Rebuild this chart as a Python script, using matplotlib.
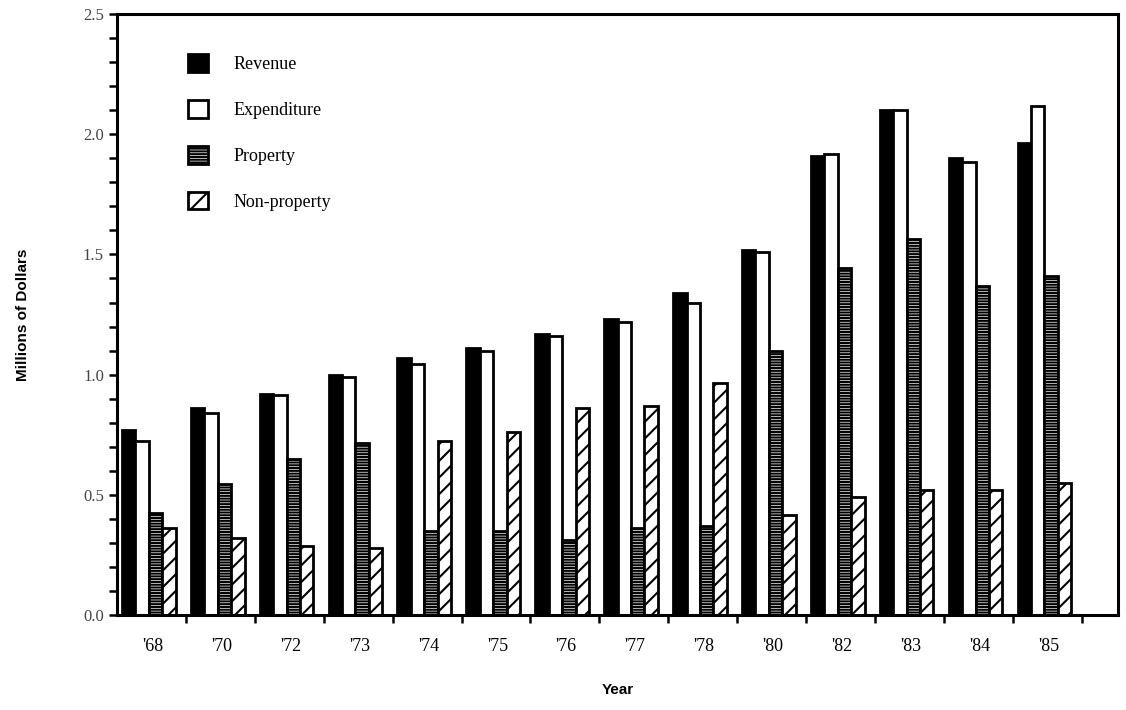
import numpy as np
import matplotlib
matplotlib.use("Agg")
import matplotlib.pyplot as plt
from matplotlib.ticker import MultipleLocator

# values (millions of dollars)
years = ["'68", "'70", "'72", "'73", "'74", "'75", "'76", "'77", "'78", "'80", "'82", "'83", "'84", "'85"]
revenue = [0.77, 0.86, 0.92, 1.00, 1.07, 1.11, 1.17, 1.23, 1.34, 1.52, 1.91, 2.10, 1.90, 1.965]
expenditure = [0.725, 0.84, 0.915, 0.99, 1.045, 1.10, 1.16, 1.22, 1.30, 1.51, 1.92, 2.10, 1.885, 2.12]
property_tax = [0.425, 0.545, 0.65, 0.715, 0.35, 0.35, 0.31, 0.36, 0.37, 1.10, 1.445, 1.565, 1.37, 1.41]
non_property = [0.36, 0.32, 0.285, 0.28, 0.725, 0.76, 0.86, 0.87, 0.965, 0.415, 0.49, 0.52, 0.52, 0.55]

plt.rcParams['hatch.linewidth'] = 1.5

fig = plt.figure(figsize=(11.26, 7.10), dpi=100)
ax = fig.add_axes([0.104, 0.134, 0.889, 0.846])

x = np.arange(len(years))
w = 0.195
start = -0.43

series = [
    (revenue, "Revenue", dict(color="black", edgecolor="black")),
    (expenditure, "Expenditure", dict(color="white", edgecolor="black")),
    (property_tax, "Property", dict(color="white", edgecolor="black", hatch="------")),
    (non_property, "Non-property", dict(color="white", edgecolor="black", hatch="//")),
]
handles = []
for k, (vals, name, style) in enumerate(series):
    b = ax.bar(x + start + k * w, vals, width=w, align="edge", linewidth=2.0,
               label=name, **style)
    handles.append(b)

ax.set_xlim(-0.5, 14.03)
ax.set_ylim(0, 2.5)

for s in ax.spines.values():
    s.set_linewidth(2.2)

ax.yaxis.set_major_locator(MultipleLocator(0.5))
ax.yaxis.set_minor_locator(MultipleLocator(0.1))
ax.set_yticklabels([f"{v:.1f}" for v in ax.get_yticks()], family="Liberation Serif",
                   fontsize=12, color="#444444")
ax.tick_params(axis="y", which="both", direction="out", length=6, width=1.8)

ax.set_xticks(x + 0.02)
ax.set_xticklabels(years, family="Liberation Serif", fontsize=13)
ax.tick_params(axis="x", which="major", length=0, pad=17)
ax.set_xticks(np.arange(len(years)) + 0.5, minor=True)
ax.tick_params(axis="x", which="minor", direction="out", length=6, width=1.8)

ax.set_ylabel("Millions of Dollars", family="Liberation Sans", fontweight="bold",
              fontsize=11, labelpad=38)
ax.set_xlabel("Year", family="Liberation Sans", fontweight="bold", fontsize=11, labelpad=20)

ax.legend(handles=handles, loc="upper left", bbox_to_anchor=(0.055, 0.96), frameon=False,
          handlelength=1.1, handleheight=1.1, labelspacing=1.5, handletextpad=1.4,
          prop={"family": "Liberation Serif", "size": 13})

fig.savefig("out.png", dpi=100)
